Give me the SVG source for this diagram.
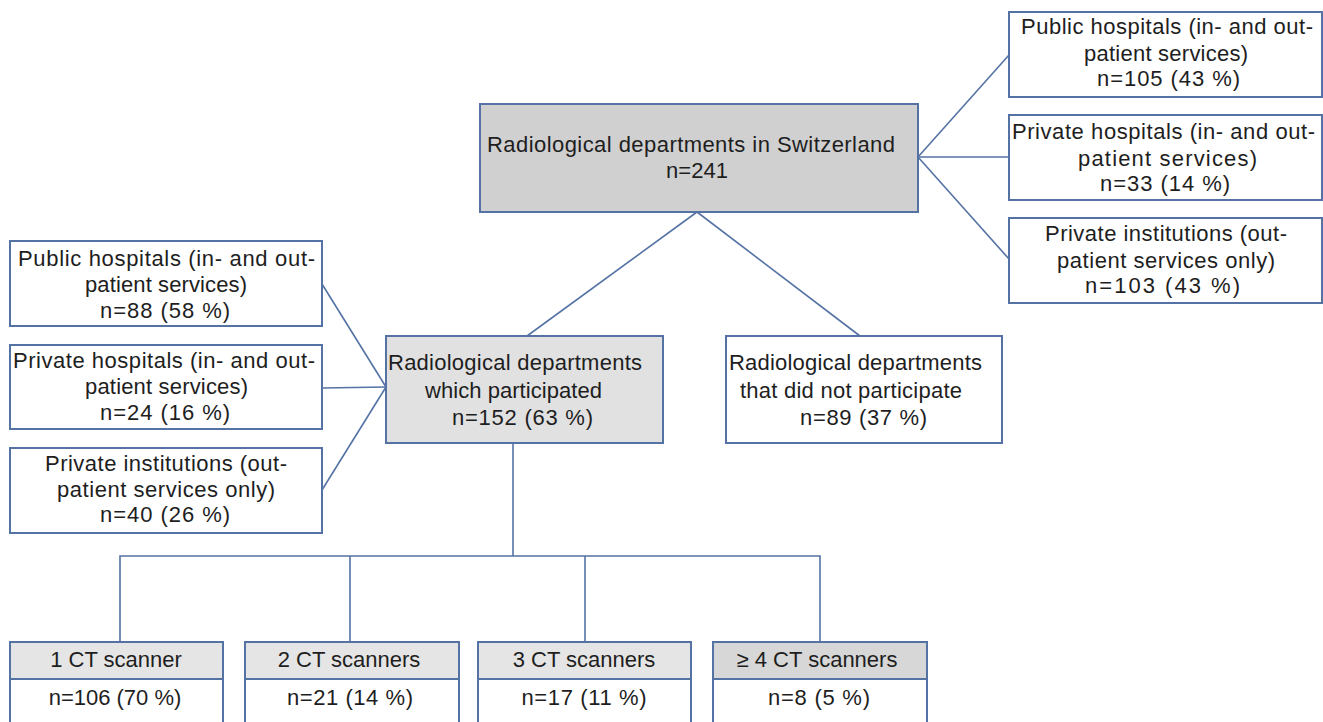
<svg xmlns="http://www.w3.org/2000/svg" width="1323" height="722" viewBox="0 0 1323 722">
<style>
.box{stroke:#5472a4;stroke-width:2;fill:#ffffff}
.dark{fill:#d0d0d0}
.mid{fill:#e1e1e1}
.hdr{fill:#e5e5e5}
.hdr4{fill:#d7d7d7}
.ln{stroke:#5472a4;stroke-width:1.6;fill:none}
text{font-family:"Liberation Sans",Arial,sans-serif;font-size:22px;fill:#1e1e1e}
</style>
<rect width="1323" height="722" fill="#ffffff"/>
<g id="connectors">
<polyline class="ln" points="918,157 1009,55"/>
<polyline class="ln" points="918,157 1009,157"/>
<polyline class="ln" points="918,157 1009,259"/>
<polyline class="ln" points="697,212 527,336"/>
<polyline class="ln" points="697,212 860,336"/>
<polyline class="ln" points="322,284 386,387"/>
<polyline class="ln" points="322,388 386,387"/>
<polyline class="ln" points="322,490 386,387"/>
<polyline class="ln" points="513,443 513,556"/>
<polyline class="ln" points="120,642 120,556 820,556 820,642"/>
<polyline class="ln" points="350,556 350,642"/>
<polyline class="ln" points="585,556 585,642"/>
</g>
<g id="top">
<rect class="box dark" x="480" y="104" width="438" height="108"/>
<text x="487" y="152" textLength="408" lengthAdjust="spacing">Radiological departments in Switzerland</text>
<text x="697" y="178" text-anchor="middle">n=241</text>
</g>
<g id="r1">
<rect class="box" x="1009" y="12" width="313" height="85"/>
<text x="1021" y="34" textLength="292" lengthAdjust="spacing">Public hospitals (in- and out-</text>
<text x="1084" y="61" textLength="164" lengthAdjust="spacing">patient services)</text>
<text x="1097" y="86" textLength="143" lengthAdjust="spacing">n=105 (43 %)</text>
</g>
<g id="r2">
<rect class="box" x="1009" y="115" width="313" height="85"/>
<text x="1012" y="139" textLength="303" lengthAdjust="spacing">Private hospitals (in- and out-</text>
<text x="1078" y="166" textLength="179" lengthAdjust="spacing">patient services)</text>
<text x="1100" y="191" textLength="130" lengthAdjust="spacing">n=33 (14 %)</text>
</g>
<g id="r3">
<rect class="box" x="1009" y="218" width="313" height="85"/>
<text x="1045" y="241" textLength="242" lengthAdjust="spacing">Private institutions (out-</text>
<text x="1057" y="268" textLength="218" lengthAdjust="spacing">patient services only)</text>
<text x="1085" y="293" textLength="155" lengthAdjust="spacing">n=103 (43 %)</text>
</g>
<g id="l1">
<rect class="box" x="10" y="241" width="312" height="85"/>
<text x="18" y="266" textLength="297" lengthAdjust="spacing">Public hospitals (in- and out-</text>
<text x="85" y="292" textLength="162" lengthAdjust="spacing">patient services)</text>
<text x="100" y="318" textLength="130" lengthAdjust="spacing">n=88 (58 %)</text>
</g>
<g id="l2">
<rect class="box" x="10" y="345" width="312" height="84"/>
<text x="13" y="368" textLength="302" lengthAdjust="spacing">Private hospitals (in- and out-</text>
<text x="85" y="394" textLength="163" lengthAdjust="spacing">patient services)</text>
<text x="100" y="420" textLength="130" lengthAdjust="spacing">n=24 (16 %)</text>
</g>
<g id="l3">
<rect class="box" x="10" y="448" width="312" height="85"/>
<text x="45" y="471" textLength="242" lengthAdjust="spacing">Private institutions (out-</text>
<text x="57" y="497" textLength="218" lengthAdjust="spacing">patient services only)</text>
<text x="100" y="522" textLength="130" lengthAdjust="spacing">n=40 (26 %)</text>
</g>
<g id="participated">
<rect class="box mid" x="386" y="336" width="277" height="107"/>
<text x="388" y="370" textLength="254" lengthAdjust="spacing">Radiological departments</text>
<text x="425" y="398" textLength="177" lengthAdjust="spacing">which participated</text>
<text x="452" y="425" textLength="141" lengthAdjust="spacing">n=152 (63 %)</text>
</g>
<g id="notparticipated">
<rect class="box" x="726" y="336" width="276" height="107"/>
<text x="729" y="370" textLength="253" lengthAdjust="spacing">Radiological departments</text>
<text x="740" y="398" textLength="222" lengthAdjust="spacing">that did not participate</text>
<text x="800" y="425" textLength="127" lengthAdjust="spacing">n=89 (37 %)</text>
</g>
<g id="ct1">
<rect class="box" x="10" y="642" width="213" height="100"/>
<rect class="box hdr" x="10" y="642" width="213" height="37"/>
<text x="116" y="667" text-anchor="middle">1 CT scanner</text>
<text x="115" y="705" text-anchor="middle">n=106 (70 %)</text>
</g>
<g id="ct2">
<rect class="box" x="245" y="642" width="214" height="100"/>
<rect class="box hdr" x="245" y="642" width="214" height="37"/>
<text x="349" y="667" text-anchor="middle">2 CT scanners</text>
<text x="350" y="705" text-anchor="middle" textLength="126" lengthAdjust="spacing">n=21 (14 %)</text>
</g>
<g id="ct3">
<rect class="box" x="478" y="642" width="213" height="100"/>
<rect class="box hdr" x="478" y="642" width="213" height="37"/>
<text x="584" y="667" text-anchor="middle">3 CT scanners</text>
<text x="584" y="705" text-anchor="middle" textLength="125" lengthAdjust="spacing">n=17 (11 %)</text>
</g>
<g id="ct4">
<rect class="box" x="713" y="642" width="214" height="100"/>
<rect class="box hdr4" x="713" y="642" width="214" height="37"/>
<text x="817" y="667" text-anchor="middle">≥ 4 CT scanners</text>
<text x="819" y="705" text-anchor="middle" textLength="102" lengthAdjust="spacing">n=8 (5 %)</text>
</g>
</svg>
